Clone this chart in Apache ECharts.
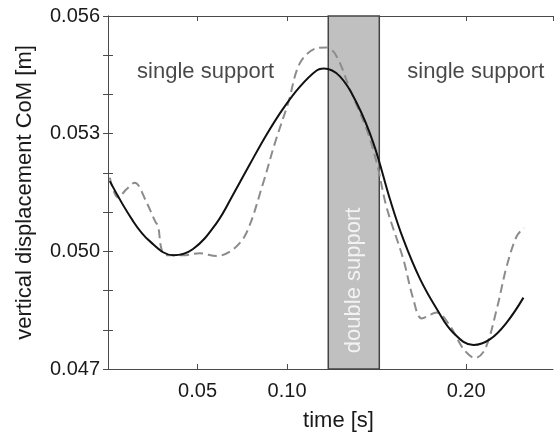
<!DOCTYPE html>
<html>
<head>
<meta charset="utf-8">
<script src="https://cdn.jsdelivr.net/npm/echarts@6/dist/echarts.min.js"></script>
<style>
  html, body { margin: 0; padding: 0; background: #fff; }
  #chart { width: 554px; height: 437px; }
</style>
</head>
<body>
<div id="chart"></div>
<script>
// time [s] and vertical CoM displacement [m], model (solid)
const timeModel = [0.001, 0.014, 0.0233, 0.0365, 0.0475, 0.0606, 0.0699, 0.0792, 0.0886, 0.0978,
  0.1072, 0.1165, 0.1205, 0.1295, 0.1389, 0.1482, 0.1575, 0.1649, 0.1743, 0.1836,
  0.1929, 0.2041, 0.2134, 0.2227, 0.232];
const comModel = [0.05179, 0.05077, 0.05026, 0.0499, 0.05006, 0.05072, 0.05145, 0.05222, 0.05298, 0.05364,
  0.0542, 0.05461, 0.05466, 0.05446, 0.05378, 0.05276, 0.05132, 0.05031, 0.04929, 0.04853,
  0.04792, 0.04761, 0.04776, 0.04819, 0.04882];

// measured (dashed)
const timeMeasured = [0.001, 0.0056, 0.0103, 0.0149, 0.0215, 0.0265, 0.028, 0.0299, 0.0326, 0.0419,
  0.0513, 0.0606, 0.0699, 0.0774, 0.0867, 0.0932, 0.1006, 0.1072, 0.1165, 0.1221,
  0.1277, 0.1352, 0.1445, 0.1501, 0.1556, 0.1649, 0.1705, 0.1752, 0.1836, 0.191,
  0.1985, 0.205, 0.2106, 0.2171, 0.2227, 0.2283, 0.2324];
const comMeasured = [0.05188, 0.05137, 0.05158, 0.05175, 0.05125, 0.05075, 0.05064, 0.05005, 0.0499, 0.0499,
  0.04995, 0.04988, 0.05005, 0.05048, 0.05175, 0.05276, 0.05378, 0.0548, 0.05518, 0.0552,
  0.05497, 0.05412, 0.0531, 0.05225, 0.05112, 0.0498, 0.04878, 0.04829, 0.04844, 0.0481,
  0.04751, 0.04728, 0.04751, 0.04853, 0.04963, 0.05039, 0.0506];

// double support phase
const doubleSupport = [0.123, 0.1515];

const xTickLabels = ['0.05', '0.10', '0.20'];
const yTickLabels = ['0.047', '0.050', '0.053', '0.056'];

// phase labels: [time, value, text]
const phaseLabels = [
  [0.0545, 0.05458, 'single support'],
  [0.2054, 0.05458, 'single support']
];
const doubleLabel = [0.1372, 0.04926, 'double support'];

const FONT = 'Liberation Sans, Arial, Helvetica, sans-serif';
const AXIS_COLOR = '#4a4a4a';
const TEXT_COLOR = '#1a1a1a';

const zip = (a, b) => a.map((v, i) => [v, b[i]]);

const chart = echarts.init(document.getElementById('chart'));

const xBase = {
  type: 'value', min: 0, max: 0.2485, interval: 0.05,
  axisLine: {lineStyle: {color: AXIS_COLOR, width: 1}},
  axisTick: {inside: true, length: 5, lineStyle: {color: AXIS_COLOR}},
  splitLine: {show: false}
};
const yBase = {
  type: 'value', min: 0.047, max: 0.056, interval: 0.001,
  axisLine: {show: true, lineStyle: {color: AXIS_COLOR, width: 1}},
  axisTick: {show: true, inside: true, length: 5, lineStyle: {color: AXIS_COLOR}},
  splitLine: {show: false}
};

chart.setOption({
  animation: false,
  backgroundColor: '#fff',
  textStyle: {fontFamily: FONT},
  grid: {left: 108, width: 445, top: 16, height: 354},
  xAxis: [
    Object.assign({}, xBase, {
      position: 'bottom',
      name: 'time [s]', nameLocation: 'middle', nameGap: 41,
      nameTextStyle: {fontSize: 22, color: TEXT_COLOR, fontFamily: FONT, padding: [0, 0, 0, 16]},
      axisLabel: {
        fontSize: 20, color: TEXT_COLOR, fontFamily: FONT, margin: 12,
        showMaxLabel: false,
        formatter: v => xTickLabels.includes(v.toFixed(2)) ? v.toFixed(2) : ''
      }
    }),
    Object.assign({}, xBase, {position: 'top', axisLabel: {show: false}})
  ],
  yAxis: [
    Object.assign({}, yBase, {
      position: 'left',
      name: 'vertical displacement CoM [m]', nameLocation: 'middle', nameGap: 72,
      nameTextStyle: {fontSize: 22, color: TEXT_COLOR, fontFamily: FONT},
      axisLabel: {
        fontSize: 20, color: TEXT_COLOR, fontFamily: FONT, margin: 8,
        formatter: v => yTickLabels.includes(v.toFixed(3)) ? v.toFixed(3) : ''
      }
    }),
    Object.assign({}, yBase, {position: 'right', axisLabel: {show: false}})
  ],
  series: [
    {
      name: 'phase', type: 'line', data: [], z: 1, silent: true,
      markArea: {
        silent: true,
        itemStyle: {color: '#c0c0c0', borderColor: '#444', borderWidth: 1.5},
        data: [[{xAxis: doubleSupport[0]}, {xAxis: doubleSupport[1]}]]
      }
    },
    {
      name: 'measured', type: 'line', z: 3,
      data: zip(timeMeasured, comMeasured),
      smooth: 0.35, showSymbol: false,
      lineStyle: {color: '#8c8c8c', width: 2, type: [9, 5]}
    },
    {
      name: 'model', type: 'line', z: 4,
      data: zip(timeModel, comModel),
      smooth: 0.4, showSymbol: false,
      lineStyle: {color: '#111', width: 2}
    },
    {
      name: 'labels', type: 'scatter', z: 5, silent: true, symbolSize: 0,
      data: phaseLabels.map(p => ({value: [p[0], p[1]], name: p[2]})).concat([{
        value: [doubleLabel[0], doubleLabel[1]], name: doubleLabel[2],
        label: {rotate: 90, color: '#fff'}
      }]),
      label: {
        show: true, position: 'inside', formatter: '{b}',
        fontSize: 22, color: TEXT_COLOR, fontFamily: FONT,
        textBorderWidth: 0, textShadowBlur: 0
      }
    }
  ]
});
</script>
</body>
</html>
